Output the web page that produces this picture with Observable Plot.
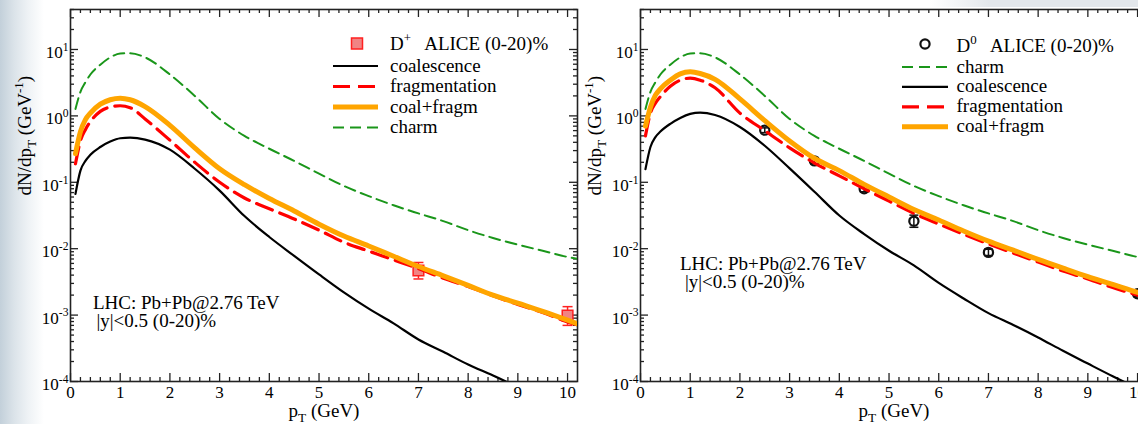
<!DOCTYPE html>
<html>
<head>
<meta charset="utf-8">
<script src="https://cdn.jsdelivr.net/npm/d3@7"></script>
<script src="https://cdn.jsdelivr.net/npm/@observablehq/plot@0.6"></script>
<style>
  html, body { margin: 0; padding: 0; width: 1138px; height: 424px; overflow: hidden; background: #fff; }
  #backdrop { position: absolute; left: 0; top: 0; width: 1138px; height: 424px;
    background: linear-gradient(to right, #c3d0da 0px, #dbe3e9 14px, #eef2f5 28px, #ffffff 44px); }
  #topband { position: absolute; left: 930px; top: 0; width: 208px; height: 7px;
    background: linear-gradient(to right, rgba(225,229,233,0), #e3e7eb 60px); }
  .panel { position: absolute; top: 0; width: 590px; height: 424px; }
  .panel svg { max-width: none; }
  .panel svg text { font-family: 'Liberation Serif', 'Times New Roman', Times, serif; }
</style>
</head>
<body>
<div id="backdrop"></div>
<div id="topband"></div>
<div id="left" class="panel" style="left:0px"></div>
<div id="right" class="panel" style="left:570px"></div>
<script>
// transverse momentum grid (GeV) shared by every model curve
const pt = [0.1, 0.2, 0.3, 0.4, 0.6, 0.8, 1.0, 1.2, 1.5, 2.0, 2.5, 3.0, 3.5, 4.0, 4.5,
            5.0, 5.5, 6.0, 6.5, 7.0, 7.5, 8.0, 8.5, 9.0, 9.5, 10.0, 10.2];

// charm quark spectrum (same in both panels)
const charm = [1.27, 2.3, 3.2, 4.2, 5.9, 7.6, 8.7, 8.8, 7.6, 4.2, 2.0, 0.9, 0.5, 0.32, 0.21,
               0.135, 0.088, 0.062, 0.045, 0.034, 0.026, 0.019, 0.0145, 0.0115, 0.0093, 0.0075, 0.0070];

// D+ : coalescence, fragmentation, coal+fragm
const dplusCoal = [0.067, 0.15, 0.21, 0.26, 0.34, 0.41, 0.46, 0.47, 0.44, 0.31, 0.16, 0.075, 0.031, 0.015, 0.0078,
                   0.0041, 0.0022, 0.00125, 0.00075, 0.00043, 0.00028, 0.00018, 0.000123, 0.000082, null, null, null];
const dplusFrag = [0.19, 0.42, 0.62, 0.82, 1.17, 1.36, 1.42, 1.33, 0.9, 0.43, 0.2, 0.1, 0.058, 0.04, 0.028,
                   0.019, 0.0125, 0.0092, 0.0068, 0.005, 0.0036, 0.0027, 0.00195, 0.00145, 0.00109, 0.00079, 0.00071];
const dplusSum  = [0.27, 0.58, 0.88, 1.1, 1.5, 1.75, 1.85, 1.75, 1.38, 0.72, 0.33, 0.16, 0.092, 0.057, 0.037,
                   0.0234, 0.0155, 0.011, 0.0077, 0.0054, 0.0039, 0.0028, 0.002, 0.00151, 0.00114, 0.00084, 0.00074];

// D0 : coalescence, fragmentation, coal+fragm
const dzeroCoal = [0.158, 0.34, 0.48, 0.58, 0.76, 0.93, 1.07, 1.12, 1.03, 0.68, 0.355, 0.162, 0.072, 0.0316, 0.0166,
                   0.0093, 0.0056, 0.00305, 0.00178, 0.00107, 0.00071, 0.00046, 0.00029, 0.000186, 0.00012, 0.000079, null];
const dzeroFrag = [0.5, 1.1, 1.55, 1.95, 2.8, 3.45, 3.7, 3.45, 2.65, 1.1, 0.6, 0.33, 0.195, 0.125, 0.08,
                   0.052, 0.034, 0.0235, 0.0165, 0.0118, 0.0086, 0.0063, 0.0046, 0.0035, 0.0026, 0.002, 0.0018];
const dzeroSum  = [0.7, 1.35, 2.05, 2.55, 3.45, 4.3, 4.6, 4.35, 3.55, 1.8, 0.85, 0.42, 0.23, 0.15, 0.093,
                   0.06, 0.039, 0.027, 0.0185, 0.013, 0.0095, 0.0069, 0.0051, 0.0038, 0.0029, 0.0022, 0.002];

// ALICE measurements (0-20%)
const dplusPt = [7, 10];
const dplusVal = [0.0047, 0.00098];
const dplusLo = [0.0035, 0.0007];
const dplusHi = [0.0062, 0.00134];

const dzeroPt = [2.5, 3.5, 4.5, 5.5, 7, 10];
const dzeroVal = [0.61, 0.21, 0.08, 0.026, 0.0088, 0.0021];
const dzeroLo = [0.56, 0.19, 0.072, 0.021, 0.0079, 0.0019];
const dzeroHi = [0.66, 0.23, 0.088, 0.032, 0.0098, 0.0023];

// axis ticks
const xMajor = d3.range(0, 11);
const xMinor = d3.range(0, 51).map(i => i / 5).filter(v => !Number.isInteger(v));
const yMajor = [1e-4, 1e-3, 1e-2, 1e-1, 1, 10];
const yMinor = [];
for (const e of [-4, -3, -2, -1, 0, 1]) for (let k = 2; k <= 9; k++) { const v = k * Math.pow(10, e); if (v <= 40) yMinor.push(v); }

const FONT = "'Liberation Serif','Times New Roman',Times,serif";
const COLORS = { coal: "#000000", frag: "#ff0000", sum: "#ffa500", charm: "#1a961a" };
const STYLE = {
  coal:  { stroke: COLORS.coal,  strokeWidth: 2.2 },
  frag:  { stroke: COLORS.frag,  strokeWidth: 3.2, strokeDasharray: "17 8" },
  sum:   { stroke: COLORS.sum,   strokeWidth: 5 },
  charm: { stroke: COLORS.charm, strokeWidth: 2, strokeDasharray: "11 6" }
};

const W = 590, H = 424, ML = 70, MR = 13, MT = 9, MB = 43;
const PW = W - ML - MR, PH = H - MT - MB;

function series(values) {
  return pt.map((x, i) => ({ x, y: values[i] })).filter(d => d.y != null);
}
function points(xs, ys, lo, hi) {
  return xs.map((x, i) => ({ x, y: ys[i], lo: lo[i], hi: hi[i] }));
}

// short horizontal bar used as an error-bar cap
const capSymbol = { draw(ctx, size) { const r = Math.sqrt(size / Math.PI); ctx.moveTo(-r, 0); ctx.lineTo(r, 0); } };

// turn "a^{b}" / "a_{b}" markup into tspans
function applyRich(svg) {
  d3.select(svg).selectAll("text").each(function () {
    const src = this.textContent;
    if (!/[_^]\{/.test(src)) return;
    const holder = this.closest("[font-size]");
    const fs = parseFloat(holder ? holder.getAttribute("font-size") : 16);
    const el = d3.select(this).text(null);
    const re = /([_^])\{([^}]*)\}/g;
    let last = 0, off = 0, m;
    const put = (txt, target, size) => {
      if (!txt) return;
      const t = el.append("tspan").text(txt);
      if (target !== off) t.attr("dy", (target - off).toFixed(2));
      if (size) t.attr("font-size", size.toFixed(1));
      off = target;
    };
    while ((m = re.exec(src))) {
      put(src.slice(last, m.index), 0);
      if (m[1] === "^") put(m[2], -0.42 * fs, 0.68 * fs);
      else put(m[2], 0.28 * fs, 0.7 * fs);
      last = re.lastIndex;
    }
    put(src.slice(last), 0);
  });
}

function drawPanel(container, cfg) {
  const markerMarks = cfg.marker === "square"
    ? [
        Plot.ruleX(cfg.data, { x: "x", y1: "lo", y2: "hi", stroke: "#ff2020", strokeWidth: 1.5 }),
        Plot.dot(cfg.data, { x: "x", y: "lo", symbol: capSymbol, r: 5, stroke: "#ff2020", strokeWidth: 1.5, fill: "none" }),
        Plot.dot(cfg.data, { x: "x", y: "hi", symbol: capSymbol, r: 5, stroke: "#ff2020", strokeWidth: 1.5, fill: "none" }),
        Plot.dot(cfg.data, { x: "x", y: "y", symbol: "square", r: 6, fill: "#f08484", stroke: "#ff2020", strokeWidth: 1.5 })
      ]
    : [
        Plot.ruleX(cfg.data, { x: "x", y1: "lo", y2: "hi", stroke: "#111", strokeWidth: 1.5 }),
        Plot.dot(cfg.data, { x: "x", y: "lo", symbol: capSymbol, r: 4.5, stroke: "#111", strokeWidth: 1.5, fill: "none" }),
        Plot.dot(cfg.data, { x: "x", y: "hi", symbol: capSymbol, r: 4.5, stroke: "#111", strokeWidth: 1.5, fill: "none" }),
        Plot.dot(cfg.data, { x: "x", y: "y", symbol: "circle", r: 4.6, fill: "none", stroke: "#111", strokeWidth: 2.2 })
      ];

  const line = (vals, key) => Plot.line(series(vals), { x: "x", y: "y", curve: "monotone-x", clip: true, ...STYLE[key] });
  const tickStyle = { stroke: "#222", strokeWidth: 1.3 };

  const svg = Plot.plot({
    width: W, height: H,
    marginLeft: ML, marginRight: MR, marginTop: MT, marginBottom: MB,
    x: { domain: [0, 10.2], axis: null },
    y: { type: "log", domain: [1e-4, 40], axis: null },
    style: { fontFamily: FONT, background: "transparent", color: "#000", overflow: "visible" },
    marks: [
      // inward ticks on all four sides
      Plot.tickX(xMajor, { x: d => d, insetTop: PH - 8, ...tickStyle }),
      Plot.tickX(xMinor, { x: d => d, insetTop: PH - 4, ...tickStyle }),
      Plot.tickX(xMajor, { x: d => d, insetBottom: PH - 8, ...tickStyle }),
      Plot.tickX(xMinor, { x: d => d, insetBottom: PH - 4, ...tickStyle }),
      Plot.tickY(yMajor, { y: d => d, insetRight: PW - 8, ...tickStyle }),
      Plot.tickY(yMinor, { y: d => d, insetRight: PW - 4, ...tickStyle }),
      Plot.tickY(yMajor, { y: d => d, insetLeft: PW - 8, ...tickStyle }),
      Plot.tickY(yMinor, { y: d => d, insetLeft: PW - 4, ...tickStyle }),
      Plot.frame({ stroke: "#222", strokeWidth: 1.6 }),
      ...markerMarks,
      ...cfg.curves.map(([vals, key]) => line(vals, key)),
      // tick labels
      Plot.text(yMajor, { y: d => d, text: d => `10^{${Math.round(Math.log10(d))}}`, frameAnchor: "left",
                          textAnchor: "end", dx: -2, dy: 3, fontSize: 17, fill: "#000" }),
      Plot.text(xMajor, { x: d => d, text: d => String(d), frameAnchor: "bottom", lineAnchor: "top",
                          dy: 4, fontSize: 17, fill: "#000" }),
      // axis titles
      Plot.text(["dN/dp_{T} (GeV^{-1})"], { text: d => d, frameAnchor: "left", rotate: -90, dx: -46,
                                             fontSize: 19, fill: "#000" }),
      Plot.text(["p_{T} (GeV)"], { text: d => d, frameAnchor: "bottom", lineAnchor: "bottom", dy: 35,
                                   fontSize: 19, fill: "#000" })
    ]
  });

  const root = d3.select(svg);
  const g = root.append("g").attr("transform", `translate(${ML},${MT})`)
    .attr("font-family", FONT).attr("fill", "#000").attr("text-anchor", "start");

  // legend
  const L = cfg.legend;
  if (cfg.marker === "square") {
    g.append("rect").attr("x", L.markerX - 5.5).attr("y", L.markerY - 5.5).attr("width", 11).attr("height", 11)
      .attr("fill", "#f08484").attr("stroke", "#ff2020").attr("stroke-width", 1.5);
  } else {
    g.append("circle").attr("cx", L.markerX).attr("cy", L.markerY).attr("r", 4.6)
      .attr("fill", "none").attr("stroke", "#111").attr("stroke-width", 2.2);
  }
  g.append("text").attr("x", L.textX).attr("y", L.firstBaseline).attr("font-size", 19).text(L.title);
  L.items.forEach(([key, label], i) => {
    const base = L.itemBaseline + i * L.step;
    const s = STYLE[key];
    g.append("line").attr("x1", L.lineX1).attr("x2", L.lineX2).attr("y1", base - 5.5).attr("y2", base - 5.5)
      .attr("stroke", s.stroke).attr("stroke-width", s.strokeWidth)
      .attr("stroke-dasharray", s.strokeDasharray || null);
    g.append("text").attr("x", L.textX).attr("y", base).attr("font-size", 19).text(label);
  });

  // collision system annotation
  const A = cfg.note;
  g.append("text").attr("x", A.x1).attr("y", A.y1).attr("font-size", 19).text("LHC: Pb+Pb@2.76 TeV");
  g.append("text").attr("x", A.x2).attr("y", A.y2).attr("font-size", 19).text("|y|<0.5 (0-20)%");

  applyRich(svg);
  container.appendChild(svg);
}

drawPanel(document.getElementById("left"), {
  marker: "square",
  data: points(dplusPt, dplusVal, dplusLo, dplusHi),
  curves: [[charm, "charm"], [dplusCoal, "coal"], [dplusFrag, "frag"], [dplusSum, "sum"]],
  legend: {
    markerX: 287, markerY: 34.5, textX: 320, firstBaseline: 41, title: "D^{+}\u00a0\u00a0 ALICE (0-20)%",
    lineX1: 263, lineX2: 308, itemBaseline: 62.5, step: 20.5,
    items: [["coal", "coalescence"], ["frag", "fragmentation"], ["sum", "coal+fragm"], ["charm", "charm"]]
  },
  note: { x1: 23, y1: 300, x2: 26.5, y2: 317.5 }
});

drawPanel(document.getElementById("right"), {
  marker: "circle",
  data: points(dzeroPt, dzeroVal, dzeroLo, dzeroHi),
  curves: [[charm, "charm"], [dzeroCoal, "coal"], [dzeroFrag, "frag"], [dzeroSum, "sum"]],
  legend: {
    markerX: 285, markerY: 35, textX: 316.5, firstBaseline: 43, title: "D^{0}\u00a0\u00a0 ALICE (0-20)%",
    lineX1: 262, lineX2: 308, itemBaseline: 63.5, step: 19.9,
    items: [["charm", "charm"], ["coal", "coalescence"], ["frag", "fragmentation"], ["sum", "coal+fragm"]]
  },
  note: { x1: 40, y1: 261, x2: 45, y2: 279 }
});
</script>
</body>
</html>
